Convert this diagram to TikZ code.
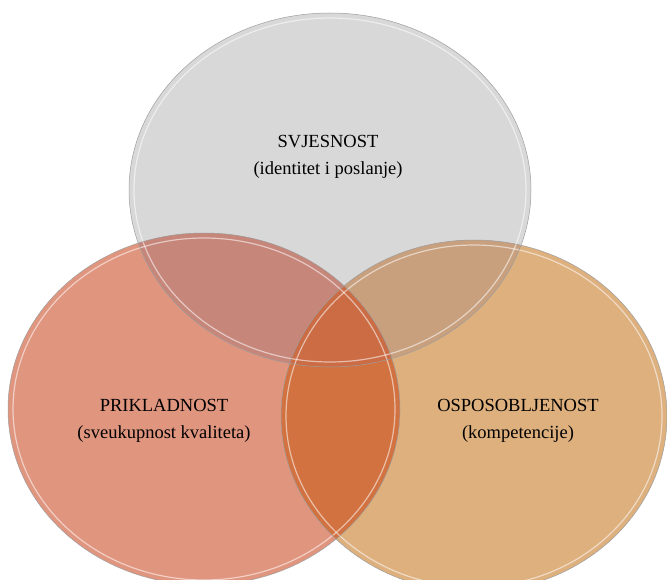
\documentclass[tikz,border=0pt]{standalone}
\usepackage{fontspec}
\setmainfont{Liberation Serif}
\definecolor{cA}{HTML}{D8D8D8}
\definecolor{cB}{HTML}{E0957F}
\definecolor{cC}{HTML}{DDB07E}
\definecolor{cAB}{HTML}{C6867A}
\definecolor{cAC}{HTML}{C8A07E}
\definecolor{cBC}{HTML}{D27240}
\definecolor{cABC}{HTML}{CB6C45}
\begin{document}
\begin{tikzpicture}[x=1pt,y=-1pt,
  edge/.style={draw=black!38, line width=0.5pt},
  shine/.style={draw=white, opacity=0.55, line width=1.2pt},
  lbl/.style={align=center, font=\fontsize{18.5}{27}\selectfont, text=black}]
\useasboundingbox (0,0) rectangle (667,580);
\def\ellA{(330,190) ellipse [x radius=201, y radius=177]}
\def\ellB{(204,409) ellipse [x radius=196, y radius=176]}
\def\ellC{(474,416) ellipse [x radius=193, y radius=176]}
% single regions
\fill[cA] \ellA;
\fill[cB] \ellB;
\fill[cC] \ellC;
% pairwise
\begin{scope}\clip \ellA; \fill[cAB] \ellB; \end{scope}
\begin{scope}\clip \ellA; \fill[cAC] \ellC; \end{scope}
\begin{scope}\clip \ellB; \fill[cBC] \ellC; \end{scope}
% triple
\begin{scope}\clip \ellA; \clip \ellB; \fill[cABC] \ellC; \end{scope}
% highlights
\draw[shine] (330,190) ellipse [x radius=196, y radius=172];
\draw[shine] (204,409) ellipse [x radius=191, y radius=171];
\draw[shine] (474,416) ellipse [x radius=188, y radius=171];
% outlines
\draw[edge] \ellA;
\draw[edge] \ellB;
\draw[edge] \ellC;
% labels
\node[lbl] (svj) at (328,157) {SVJESNOST\\(identitet i poslanje)};
\node[lbl] (pri) at (164,421) {PRIKLADNOST\\(sveukupnost kvaliteta)};
\node[lbl] (osp) at (518,421) {OSPOSOBLJENOST\\(kompetencije)};
\end{tikzpicture}
\end{document}
